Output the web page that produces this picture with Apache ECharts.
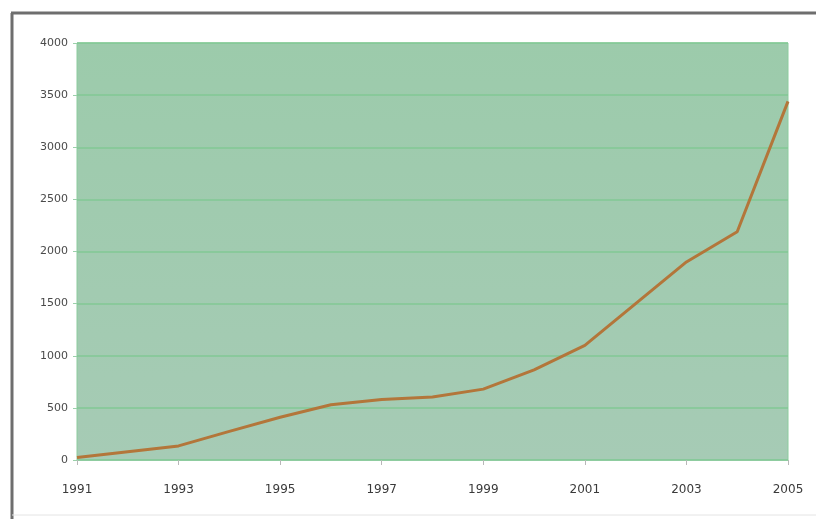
<!DOCTYPE html>
<html>
<head>
<meta charset="utf-8">
<script src="https://cdn.jsdelivr.net/npm/echarts@6/dist/echarts.min.js"></script>
<style>
html,body{margin:0;padding:0;background:#fff;}
#main{width:816px;height:519px;}
</style>
</head>
<body>
<div id="main"></div>
<script>
// 年份与数值
var years = ['1991','1992','1993','1994','1995','1996','1997','1998','1999','2000','2001','2002','2003','2004','2005'];
var values = [25, 80, 135, 275, 410, 530, 580, 605, 680, 865, 1100, 1500, 1900, 2190, 3440];
var yTicks = [0, 500, 1000, 1500, 2000, 2500, 3000, 3500, 4000];

var myChart = echarts.init(document.getElementById('main'));
var option = {
	backgroundColor: '#ffffff',
	animation: false,
	graphic: [
		// 外框（左、上）
		{type:'line', shape:{x1:12, y1:13, x2:12, y2:519}, style:{stroke:'#6e6e6e', lineWidth:3}},
		{type:'line', shape:{x1:11, y1:13, x2:816, y2:13}, style:{stroke:'#6e6e6e', lineWidth:3}},
		{type:'line', shape:{x1:12, y1:515, x2:816, y2:515}, style:{stroke:'#e4e4e4', lineWidth:1}}
	],
	grid: {
		left: 77,
		right: 28,
		top: 43,
		bottom: 59,
		show: true,
		borderWidth: 1,
		borderColor: '#8ccc9e',
		backgroundColor: {
			type: 'linear', x: 0, y: 0, x2: 0, y2: 1,
			colorStops: [{offset: 0, color: '#9ccbab'}, {offset: 1, color: '#a6cbb5'}]
		}
	},
	xAxis: {
		type: 'category',
		boundaryGap: false,
		data: years,
		axisLine: {show: true, lineStyle: {color: '#8fcca0', width: 1}},
		axisTick: {show: true, interval: 1, length: 5, lineStyle: {color: '#b8b8b8'}},
		axisLabel: {interval: 1, color: '#3a3a3a', fontSize: 12, fontFamily: 'DejaVu Sans', margin: 24},
		splitLine: {show: false}
	},
	yAxis: {
		type: 'value',
		min: yTicks[0],
		max: yTicks[yTicks.length - 1],
		interval: 500,
		axisLine: {show: false},
		axisTick: {show: true, length: 4, lineStyle: {color: '#9ad0aa'}},
		axisLabel: {
			color: '#4a4a4a', fontSize: 11, fontFamily: 'DejaVu Sans', margin: 9,
			formatter: function (v) { return String(v); }
		},
		splitLine: {show: true, lineStyle: {color: '#82c895', width: 1.5}}
	},
	series: [
		{
			name: '',
			type: 'line',
			data: values,
			smooth: false,
			symbol: 'none',
			lineStyle: {color: '#b3763a', width: 3},
			itemStyle: {color: '#b3763a'}
		}
	]
};
myChart.setOption(option);
</script>
</body>
</html>
